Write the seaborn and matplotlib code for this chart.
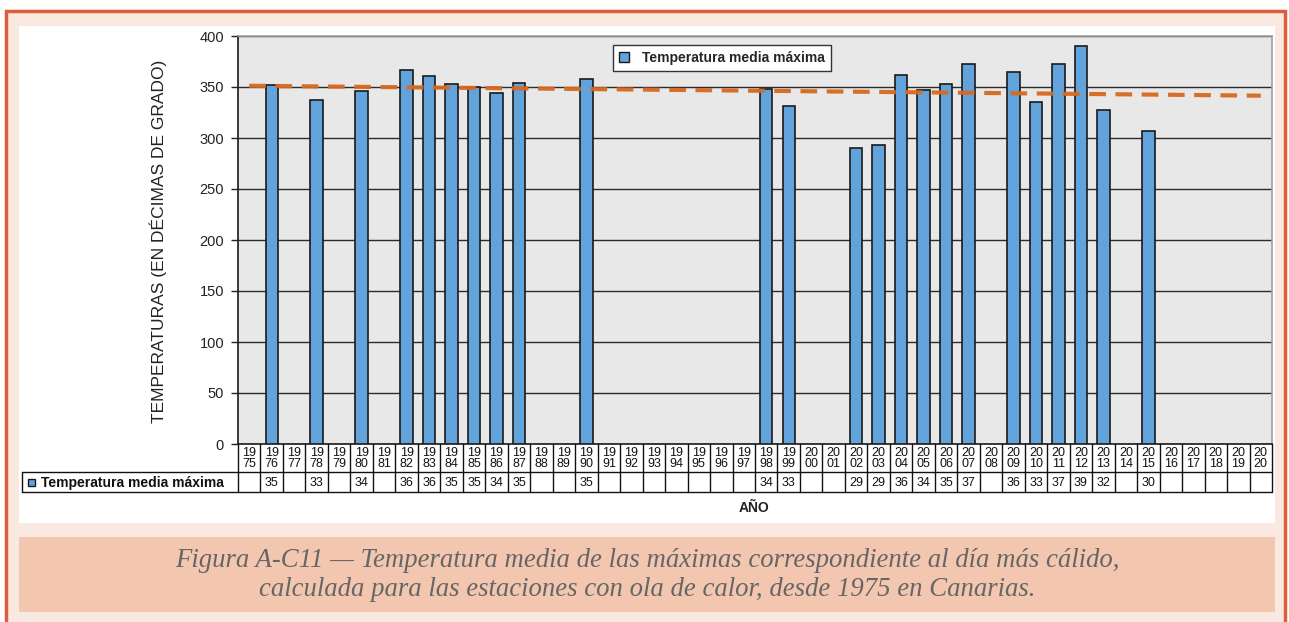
import numpy as np
import pandas as pd
import matplotlib
matplotlib.use("Agg")
import matplotlib.pyplot as plt
from matplotlib.patches import Rectangle, Patch
import seaborn as sns

# Years on the category axis
years = list(range(1975, 2021))

# Years with a heat-wave station and their mean maximum temperature (tenths of a degree)
obs_years = [1976, 1978, 1980, 1982, 1983, 1984, 1985, 1986, 1987, 1990,
             1998, 1999, 2002, 2003, 2004, 2005, 2006, 2007, 2009, 2010,
             2011, 2012, 2013, 2015]
obs_values = [352, 337, 346, 367, 361, 353, 350, 344, 354, 358,
              348, 331, 290, 293, 362, 347, 353, 373, 365, 335,
              373, 390, 327, 307]

y_ticks = [0, 50, 100, 150, 200, 250, 300, 350, 400]

series_name = "Temperatura media máxima"
y_label = "TEMPERATURAS (EN DÉCIMAS DE GRADO)"
x_label = "AÑO"
caption = ("Figura A-C11 — Temperatura media de las máximas correspondiente al día más cálido,\n"
           "calculada para las estaciones con ola de calor, desde 1975 en Canarias.")

BAR = "#62a3dc"
TREND = "#d8691f"
PLOT_BG = "#e8e8e8"
FRAME_RED = "#e05d3c"
PEACH = "#f9e9e0"
CAPTION_BG = "#f3c6b0"
CAPTION_FG = "#666666"

W, H = 1289, 622
sns.set_theme(style="white")
plt.rcParams["font.family"] = ["Liberation Sans", "DejaVu Sans"]
NARROW = ["Liberation Sans Narrow", "Liberation Sans", "DejaVu Sans"]

fig = plt.figure(figsize=(W / 100, H / 100), dpi=100)
fig.patch.set_facecolor("white")


def fx(px):
    return px / W


def fy(py):
    return 1 - py / H


# Decorative frame: red border, peach mat, white panel, caption band
fig.add_artist(Rectangle((fx(6), fy(640)), fx(1279), (640 - 11) / H,
                         transform=fig.transFigure, facecolor=PEACH,
                         edgecolor=FRAME_RED, linewidth=2.5, zorder=0))
fig.add_artist(Rectangle((fx(19), fy(523)), fx(1256), (523 - 26) / H,
                         transform=fig.transFigure, facecolor="white",
                         edgecolor="none", zorder=0))
fig.add_artist(Rectangle((fx(19), fy(612)), fx(1256), (612 - 537) / H,
                         transform=fig.transFigure, facecolor=CAPTION_BG,
                         edgecolor="none", zorder=0))

# Main plot area
L, R, T, B = 238, 1272, 36, 444
ax = fig.add_axes([fx(L), fy(B), fx(R - L), (B - T) / H])
ax.set_facecolor(PLOT_BG)

df = pd.DataFrame({"year": [str(y) for y in years]})
df["value"] = df["year"].map(dict(zip([str(y) for y in obs_years], obs_values)))
order = [str(y) for y in years]

sns.barplot(data=df.dropna(), x="year", y="value", order=order, ax=ax,
            color=BAR, edgecolor="#1a1a1a", linewidth=1.2, width=0.55,
            saturation=1, errorbar=None, zorder=3)

# Linear trend over category positions
xpos = np.array([years.index(y) for y in obs_years], dtype=float)
coef = np.polyfit(xpos, np.array(obs_values, dtype=float), 1)
xt = np.array([0, len(years) - 1], dtype=float)
ax.plot(xt, np.polyval(coef, xt), color=TREND, linewidth=3,
        linestyle=(0, (4.0, 2.3)), zorder=4, alpha=0.95)

ax.set_xlim(-0.5, len(years) - 0.5)
ax.set_ylim(0, 400)
ax.set_yticks(y_ticks)
ax.set_xticks([])
ax.set_xlabel("")
ax.set_ylabel("")
ax.yaxis.grid(True, color="#2b2b2b", linewidth=1.0, zorder=1)
ax.set_axisbelow(True)
ax.tick_params(axis="y", which="both", left=True, length=5, width=1,
               color="#222222", labelsize=10.5, labelcolor="#222222", pad=5)
for name, sp in ax.spines.items():
    sp.set_visible(True)
ax.spines["left"].set_color("#222222")
ax.spines["bottom"].set_color("#222222")
ax.spines["top"].set_color("#a0a0a0")
ax.spines["right"].set_color("#a0a0a0")
ax.spines["top"].set_linewidth(1.2)
ax.spines["right"].set_linewidth(1.2)

fig.text(fx(158), fy(241), y_label, rotation=90, ha="center", va="center",
         fontsize=12.5, color="#222222")

handle = Patch(facecolor=BAR, edgecolor="#1a1a1a", linewidth=1)
leg = ax.legend([handle], [series_name], loc="center",
                bbox_to_anchor=(fx(722), fy(58)), bbox_transform=fig.transFigure,
                frameon=True, fancybox=False, framealpha=1, edgecolor="#333333",
                handlelength=0.7, handleheight=0.7, handletextpad=0.9,
                borderpad=0.45, borderaxespad=0,
                prop={"family": NARROW, "weight": "bold", "size": 10})
leg.get_frame().set_linewidth(1.0)
leg.set_zorder(10)

# Data table beneath the axis
ov = fig.add_axes([0, 0, 1, 1], facecolor="none")
ov.set_xlim(0, W)
ov.set_ylim(H, 0)
ov.axis("off")

edges = [ax.transData.transform((i - 0.5, 0))[0] for i in range(len(years) + 1)]
row1, row2, row3 = 444, 472, 492
kw = dict(color="#111111", linewidth=1.0)
ov.plot([edges[0], edges[-1]], [row2, row2], **kw)
ov.plot([22, edges[-1]], [row3, row3], **kw)
ov.plot([22, edges[0]], [row2, row2], **kw)
ov.plot([22, 22], [row2, row3], **kw)
for e in edges:
    ov.plot([e, e], [row1, row3], **kw)

value_of = dict(zip(obs_years, obs_values))
for i, y in enumerate(years):
    cx = (edges[i] + edges[i + 1]) / 2
    s = str(y)
    ov.text(cx, (row1 + row2) / 2 + 0.5, s[:2] + "\n" + s[2:], ha="center", va="center",
            fontsize=9, linespacing=0.92, color="#111111")
    if y in value_of:
        ov.text(cx, (row2 + row3) / 2 + 0.5, str(value_of[y] // 10), ha="center",
                va="center", fontsize=9, color="#111111")

ov.add_patch(Rectangle((27.5, 478.5), 7, 7, facecolor=BAR, edgecolor="#1a1a1a",
                       linewidth=1))
ov.text(41, (row2 + row3) / 2 + 0.5, series_name, ha="left", va="center",
        family=NARROW, weight="bold", fontsize=10, color="#111111")

ov.text(754, 508, x_label, ha="center", va="center", family=NARROW,
        weight="bold", fontsize=10, color="#222222")

ov.text(647, 575, caption, ha="center", va="center", family=["Liberation Serif"],
        style="italic", fontsize=19.3, color=CAPTION_FG, linespacing=1.26)

fig.savefig("out.png", dpi=100, facecolor=fig.get_facecolor())
